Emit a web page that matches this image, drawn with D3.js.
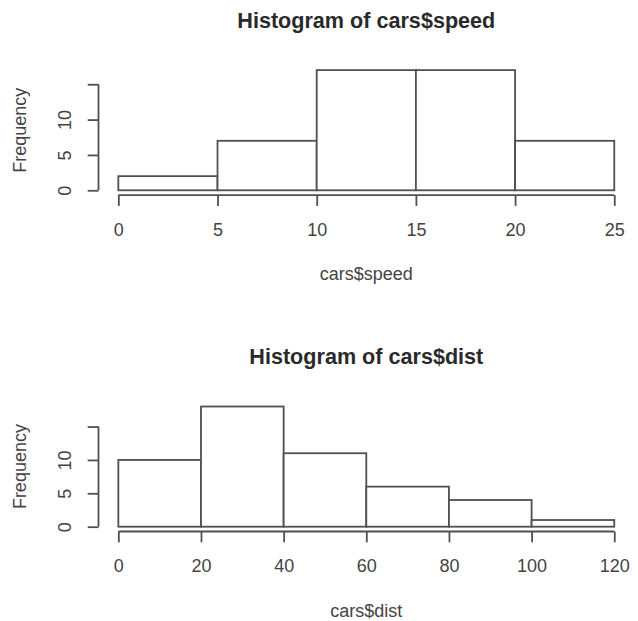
<!DOCTYPE html>
<html>
<head>
<meta charset="utf-8">
<script src="https://cdn.jsdelivr.net/npm/d3@7"></script>
<style>
  html, body { margin: 0; padding: 0; background: #fff; }
  svg { display: block; }
  text { font-family: "Liberation Sans", Arial, Helvetica, sans-serif; }
</style>
</head>
<body>
<svg id="chart" width="638" height="621"></svg>
<script>
// ---- data ----
const speedBreaks = [0, 5, 10, 15, 20, 25];
const speedCounts = [2, 7, 17, 17, 7];
const distBreaks = [0, 20, 40, 60, 80, 100, 120];
const distCounts = [10, 18, 11, 6, 4, 1];
const yTickValues = [0, 5, 10, 15];
const yTickLabels = ["0", "5", "10", ""];
const titles = ["Histogram of cars$speed", "Histogram of cars$dist"];
const xLabels = ["cars$speed", "cars$dist"];
const yLabel = "Frequency";

const svg = d3.select("#chart");
const lineColor = "#505050";
const textColor = "#444";

function panel(breaks, counts, title, xlab, top) {
  // plot region
  const left = 98.5, right = 634.1;
  const plotTop = top, plotBottom = top + 129.8;
  const xmin = breaks[0], xmax = breaks[breaks.length - 1];
  const xpad = (xmax - xmin) * 0.04;
  const ymax = d3.max(counts);
  const ypad = ymax * 0.04;
  const x = d3.scaleLinear().domain([xmin - xpad, xmax + xpad]).range([left, right]);
  const y = d3.scaleLinear().domain([-ypad, ymax + ypad]).range([plotBottom, plotTop]);

  const g = svg.append("g");
  const bins = counts.map((c, i) => ({ x0: breaks[i], x1: breaks[i + 1], c }));

  g.selectAll("rect.bar").data(bins).join("rect")
    .attr("class", "bar")
    .attr("x", d => x(d.x0))
    .attr("y", d => y(d.c))
    .attr("width", d => x(d.x1) - x(d.x0))
    .attr("height", d => y(0) - y(d.c))
    .attr("fill", "#fff")
    .attr("stroke", lineColor)
    .attr("stroke-width", 1.8);

  const tick = 10.8;
  // x axis
  const xAxis = d3.axisBottom(x).tickValues(breaks).tickSize(tick).tickSizeOuter(0);
  const xg = g.append("g").attr("transform", `translate(0,${plotBottom})`).call(xAxis);
  xg.select(".domain").attr("d", `M${x(xmin)},0H${x(xmax)}`);
  // y axis
  const yAxis = d3.axisLeft(y).tickValues(yTickValues)
    .tickFormat((d, i) => yTickLabels[i]).tickSize(tick).tickSizeOuter(0);
  const yg = g.append("g").attr("transform", `translate(${left},0)`).call(yAxis);
  yg.select(".domain").attr("d", `M0,${y(0)}V${y(15)}`);
  yg.selectAll(".tick text")
    .attr("x", null).attr("dy", null)
    .attr("text-anchor", "middle")
    .attr("transform", "translate(-27.5,0) rotate(-90)");

  [xg, yg].forEach(a => {
    a.selectAll(".domain, .tick line").attr("stroke", lineColor).attr("stroke-width", 1.8);
    a.selectAll(".tick text").attr("fill", textColor).attr("font-size", 18)
      .attr("font-family", "Liberation Sans, Arial, sans-serif");
  });
  xg.selectAll(".tick text").attr("dy", "0.71em").attr("y", tick + 17);

  // title
  g.append("text")
    .attr("x", (left + right) / 2).attr("y", plotTop - 37.5)
    .attr("text-anchor", "middle")
    .attr("font-weight", "bold").attr("font-size", 21.6)
    .attr("fill", "#2a2a2a")
    .text(title);
  // x label
  g.append("text")
    .attr("x", (left + right) / 2).attr("y", plotBottom + 85)
    .attr("text-anchor", "middle")
    .attr("font-size", 18).attr("fill", textColor)
    .text(xlab);
  // y label
  g.append("text")
    .attr("transform", `translate(25.5,${(plotTop + plotBottom) / 2}) rotate(-90)`)
    .attr("text-anchor", "middle")
    .attr("font-size", 18).attr("fill", textColor)
    .text(yLabel);
}

panel(speedBreaks, speedCounts, titles[0], xLabels[0], 65.3);
panel(distBreaks, distCounts, titles[1], xLabels[1], 401.7);
</script>
</body>
</html>
